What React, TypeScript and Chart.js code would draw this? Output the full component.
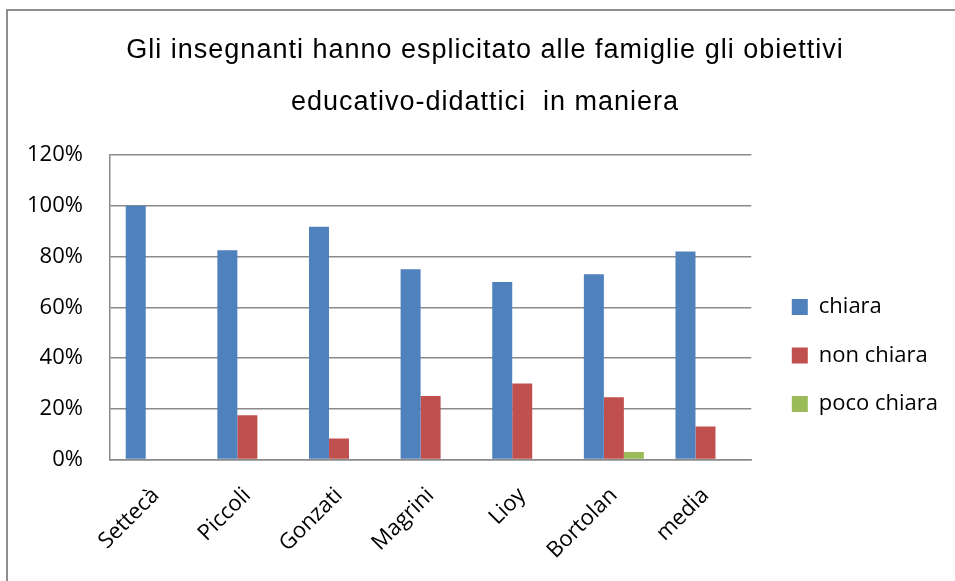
import { useEffect, useRef } from "react";
import { Chart, registerables } from "chart.js";

Chart.register(...registerables);

const titleLines = [
  "Gli insegnanti hanno esplicitato alle famiglie gli obiettivi",
  "educativo-didattici  in maniera",
];
const categories = ["Settecà", "Piccoli", "Gonzati", "Magrini", "Lioy", "Bortolan", "media"];
const seriesNames = ["chiara", "non chiara", "poco chiara"];
const chiara = [100, 82.5, 91.7, 75, 70, 73, 82];
const nonChiara = [0, 17.5, 8.3, 25, 30, 24.5, 13];
const pocoChiara = [0, 0, 0, 0, 0, 3, 0];
const yMin = 0;
const yMax = 120;
const yStep = 20;

const COLORS = ["#4F81BD", "#C0504D", "#9BBB59"];
const GRID = "#8a8a8a";

const titleSpacingPlugin = {
  id: "titleSpacing",
  afterLayout(chart: any) {
    const tb = chart.titleBlock;
    if (tb && !tb.__patched) {
      const orig = tb.draw.bind(tb);
      tb.draw = (...args: any[]) => {
        const ctx = chart.ctx as any;
        ctx.save();
        ctx.translate(11, 1.5);
        ctx.letterSpacing = "1px";
        orig(...args);
        ctx.letterSpacing = "0px";
        ctx.restore();
      };
      tb.__patched = true;
    }
  },
};

export default function App() {
  const ref = useRef<HTMLCanvasElement | null>(null);

  useEffect(() => {
    if (!ref.current) return;
    const values = [chiara, nonChiara, pocoChiara];
    const chart = new Chart(ref.current, {
      type: "bar",
      data: {
        labels: categories,
        datasets: seriesNames.map((name, i) => ({
          label: name,
          data: values[i],
          backgroundColor: COLORS[i],
          borderWidth: 0,
          categoryPercentage: 0.655,
          barPercentage: 1,
        })),
      },
      plugins: [titleSpacingPlugin],
      options: {
        responsive: false,
        animation: false,
        layout: { padding: { left: 0, right: 7, top: 0, bottom: -6 } },
        plugins: {
          tooltip: { enabled: false },
          title: {
            display: true,
            text: titleLines,
            color: "#000",
            font: { family: "'Liberation Sans', Arial, sans-serif", size: 27, weight: "normal", lineHeight: 1.926 },
            padding: { top: 23, bottom: 28 },
          },
          legend: {
            position: "right",
            align: "center",
            maxWidth: 260,
            title: { display: true, text: "", font: { size: 10 }, padding: 56 },
            labels: {
              boxWidth: 16,
              boxHeight: 16,
              padding: 26.5,
              color: "#000",
              font: { family: "'Open Sans', sans-serif", size: 22 },
            },
          },
        },
        scales: {
          x: {
            grid: { display: false, drawTicks: false },
            border: { display: true, color: GRID, width: 1.5 },
            ticks: {
              color: "#000",
              font: { family: "'Open Sans', sans-serif", size: 22 },
              minRotation: 45,
              maxRotation: 45,
              autoSkip: false,
              padding: 23,
            },
          },
          y: {
            min: yMin,
            max: yMax,
            grid: { color: GRID, lineWidth: 1.5, drawTicks: false },
            border: { display: true, color: GRID, width: 1.5 },
            ticks: {
              stepSize: yStep,
              color: "#000",
              font: { family: "'Open Sans', sans-serif", size: 22 },
              padding: 27,
              callback: (v: any) => v + "%",
            },
          },
          gap: {
            position: "right",
            min: yMin,
            max: yMax,
            grid: { display: false, drawTicks: false },
            border: { display: false },
            ticks: { display: false },
            afterFit: (s: any) => {
              s.width = 14;
            },
          },
        },
      },
    });
    return () => chart.destroy();
  }, []);

  return (
    <div style={{ position: "fixed", left: 0, top: 0, width: 955, height: 581, background: "#fff" }}>
      <div
        style={{
          position: "absolute",
          left: 6,
          top: 9,
          width: 980,
          height: 620,
          border: "2px solid #8f8f8f",
          boxSizing: "border-box",
        }}
      />
      <canvas ref={ref} width={955} height={581} style={{ position: "absolute", left: 0, top: 0 }} />
    </div>
  );
}
